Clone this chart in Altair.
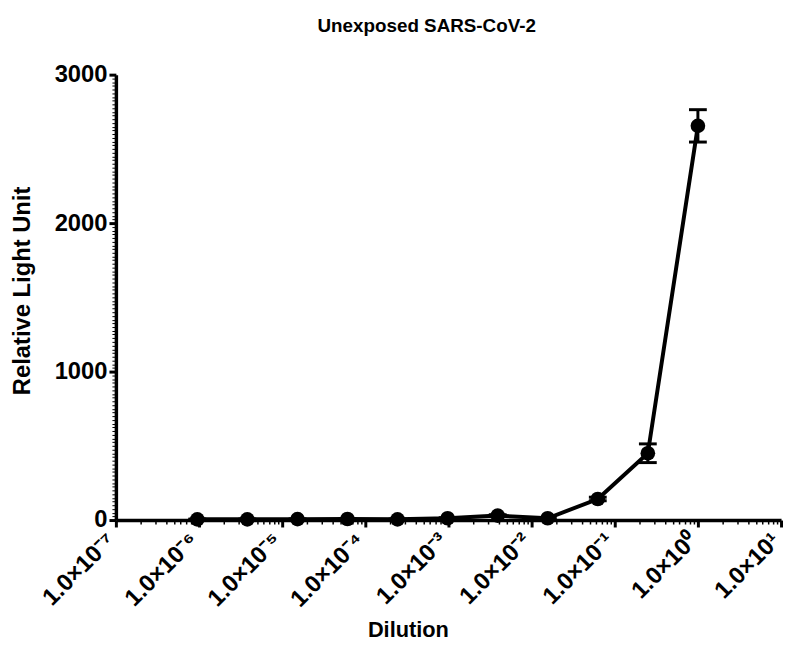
import altair as alt
import pandas as pd

# ---- data ----
dilution = [9.54e-7, 3.81e-6, 1.53e-5, 6.10e-5, 2.44e-4, 9.77e-4,
            3.91e-3, 1.56e-2, 6.25e-2, 0.25, 1.0]
rlu = [5, 5, 6, 7, 5, 12, 30, 12, 142, 450, 2655]
sem = [2, 2, 2, 2, 2, 4, 6, 4, 12, 63, 109]

x_exponents = [-7, -6, -5, -4, -3, -2, -1, 0, 1]
y_labels = [0, 1000, 2000, 3000]

SUP = {"-": "\u207b", "0": "\u2070", "1": "\u00b9", "2": "\u00b2", "3": "\u00b3",
       "4": "\u2074", "5": "\u2075", "6": "\u2076", "7": "\u2077", "8": "\u2078", "9": "\u2079"}


def sup(e):
    return "".join(SUP[c] for c in str(e))


x_tick_labels = ["1.0\u00d710" + sup(e) for e in x_exponents]

df = pd.DataFrame({
    "dilution": dilution,
    "rlu": rlu,
    "lo": [r - s for r, s in zip(rlu, sem)],
    "hi": [r + s for r, s in zip(rlu, sem)],
})

# tick positions: decades plus log minor ticks
x_ticks = []
for e in x_exponents:
    x_ticks.append(10.0 ** e)
    if e < x_exponents[-1]:
        for m in range(2, 10):
            x_ticks.append(m * 10.0 ** e)

y_ticks = list(range(0, 3001, 25))

lab_expr = "''"
for e, lab in reversed(list(zip(x_exponents, x_tick_labels))):
    lab_expr = f"abs(log(datum.value)/LN10 - ({e})) < 0.001 ? '{lab}' : " + lab_expr

y_lab_expr = "''"
for v in reversed(y_labels):
    y_lab_expr = f"datum.value === {v} ? '{v}' : " + y_lab_expr

x_major_test = "abs(log(datum.value)/LN10 - round(log(datum.value)/LN10)) < 0.001"
y_major_test = "datum.value % 1000 === 0"

FONT = "Liberation Sans"

x_axis = alt.Axis(
    values=x_ticks,
    labelExpr=lab_expr,
    labelAngle=315,
    labelAlign="right",
    labelBaseline="alphabetic",
    labelPadding=15,
    labelOverlap=False,
    labelFlush=False,
    labelBound=False,
    labelFont=FONT,
    labelFontSize=24,
    labelFontWeight="bold",
    labelColor="black",
    tickColor="black",
    tickSize={"condition": {"test": x_major_test, "value": 7}, "value": 4},
    tickWidth={"condition": {"test": x_major_test, "value": 3}, "value": 1.5},
    domainColor="black",
    domainWidth=3.5,
    grid=False,
    titleFont=FONT,
    titleFontSize=22,
    titleFontWeight="bold",
    titleColor="black",
    titleX=295,
    titleY=118,
    titleBaseline="alphabetic",
    titleAnchor="middle",
)

y_axis = alt.Axis(
    values=y_ticks,
    labelExpr=y_lab_expr,
    labelPadding=2,
    labelOverlap=False,
    labelFlush=False,
    labelBound=False,
    labelFont=FONT,
    labelFontSize=24,
    labelFontWeight="bold",
    labelColor="black",
    tickColor="black",
    tickSize={"condition": {"test": y_major_test, "value": 7}, "value": 4},
    tickWidth={"condition": {"test": y_major_test, "value": 3}, "value": 1},
    domainColor="black",
    domainWidth=3.5,
    grid=False,
    titleFont=FONT,
    titleFontSize=24,
    titleFontWeight="bold",
    titleColor="black",
    titleX=-87,
    titleY=218,
    titleBaseline="alphabetic",
    titleAnchor="middle",
)

xs = alt.Scale(type="log", domain=[1e-7, 10], nice=False)
ys = alt.Scale(domain=[0, 3000], nice=False, zero=True)

X = lambda f: alt.X(f"{f}:Q", scale=xs, axis=x_axis, title="Dilution")
Y = lambda f: alt.Y(f"{f}:Q", scale=ys, axis=y_axis, title="Relative Light Unit")

base = alt.Chart(df)
line = base.mark_line(color="black", strokeWidth=4).encode(x=X("dilution"), y=Y("rlu"))
bars = base.mark_rule(color="black", strokeWidth=3).encode(
    x=X("dilution"), y=Y("lo"), y2="hi:Q")
cap_hi = base.mark_tick(color="black", orient="horizontal", size=18, thickness=3, opacity=1).encode(
    x=X("dilution"), y=Y("hi"))
cap_lo = base.mark_tick(color="black", orient="horizontal", size=18, thickness=3, opacity=1).encode(
    x=X("dilution"), y=Y("lo"))
pts = base.mark_circle(color="black", size=220, opacity=1).encode(x=X("dilution"), y=Y("rlu"))

chart = alt.layer(line, bars, cap_hi, cap_lo, pts).properties(
    width=672,
    height=450,
    background="white",
    title=alt.TitleParams(
        "Unexposed SARS-CoV-2",
        font=FONT,
        fontSize=19,
        fontWeight="bold",
        color="black",
        anchor="middle",
        dx=-22,
        offset=27,
    ),
    autosize=alt.AutoSizeParams(type="none"),
    padding={"left": 109, "top": 64, "right": 4, "bottom": 133},
).configure_view(strokeWidth=0, stroke="transparent")

chart.save("out.html", embed_options={"renderer": "svg", "actions": False})
